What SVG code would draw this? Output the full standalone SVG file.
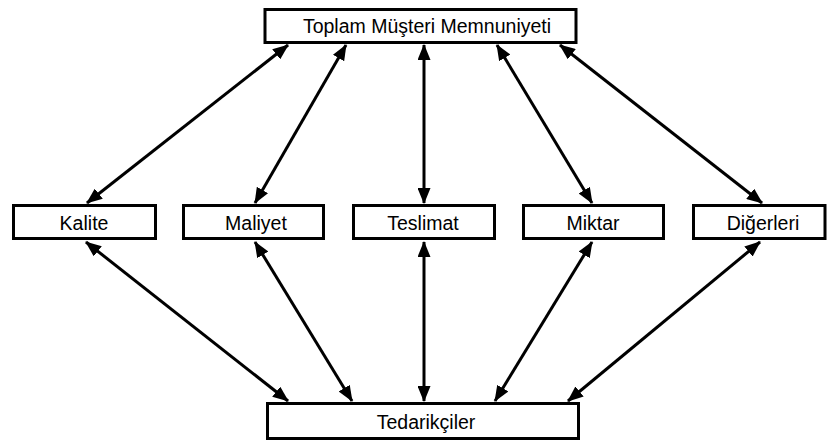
<svg xmlns="http://www.w3.org/2000/svg" width="827" height="441" viewBox="0 0 827 441">
  <style>
    .box { fill: #ffffff; stroke: #000000; stroke-width: 3; }
    .lbl { font-family: "Liberation Sans", Arial, sans-serif; font-size: 19.5px; fill: #000000; text-anchor: middle; }
    .link { stroke: #000000; stroke-width: 3; fill: none; marker-start: url(#head); marker-end: url(#head); }
  </style>
  <defs>
    <marker id="head" viewBox="0 0 16 13" refX="15" refY="6.5" markerWidth="16" markerHeight="13" markerUnits="userSpaceOnUse" orient="auto-start-reverse">
      <path d="M0,0 L16,6.5 L0,13 z" fill="#000000"/>
    </marker>
  </defs>
  <rect width="827" height="441" fill="#ffffff"/>

  <g id="connectors">
    <line class="link" x1="288" y1="45" x2="87" y2="203"/>
    <line class="link" x1="346" y1="45" x2="255" y2="203"/>
    <line class="link" x1="424" y1="45" x2="424" y2="203"/>
    <line class="link" x1="497" y1="45" x2="592" y2="203"/>
    <line class="link" x1="560" y1="45" x2="762" y2="203"/>

    <line class="link" x1="86" y1="242" x2="288" y2="401"/>
    <line class="link" x1="255" y1="242" x2="352" y2="401"/>
    <line class="link" x1="424" y1="242" x2="424" y2="401"/>
    <line class="link" x1="592" y1="242" x2="495" y2="401"/>
    <line class="link" x1="760" y1="242" x2="568" y2="401"/>
  </g>

  <g id="toplam">
    <rect class="box" x="265" y="9.5" width="311" height="33"/>
    <text class="lbl" x="427" y="33">Toplam Müşteri Memnuniyeti</text>
  </g>

  <g id="kalite">
    <rect class="box" x="13.5" y="205.5" width="142" height="33"/>
    <text class="lbl" x="84" y="230">Kalite</text>
  </g>
  <g id="maliyet">
    <rect class="box" x="183.5" y="205.5" width="140" height="33"/>
    <text class="lbl" x="256" y="230">Maliyet</text>
  </g>
  <g id="teslimat">
    <rect class="box" x="353.5" y="205.5" width="141" height="33"/>
    <text class="lbl" x="423" y="230">Teslimat</text>
  </g>
  <g id="miktar">
    <rect class="box" x="523.5" y="205.5" width="140" height="33"/>
    <text class="lbl" x="593" y="230">Miktar</text>
  </g>
  <g id="digerleri">
    <rect class="box" x="693.5" y="205.5" width="131.5" height="33"/>
    <text class="lbl" x="763" y="230">Diğerleri</text>
  </g>

  <g id="tedarikciler">
    <rect class="box" x="267.5" y="403.5" width="311" height="35"/>
    <text class="lbl" x="426" y="429">Tedarikçiler</text>
  </g>
</svg>
